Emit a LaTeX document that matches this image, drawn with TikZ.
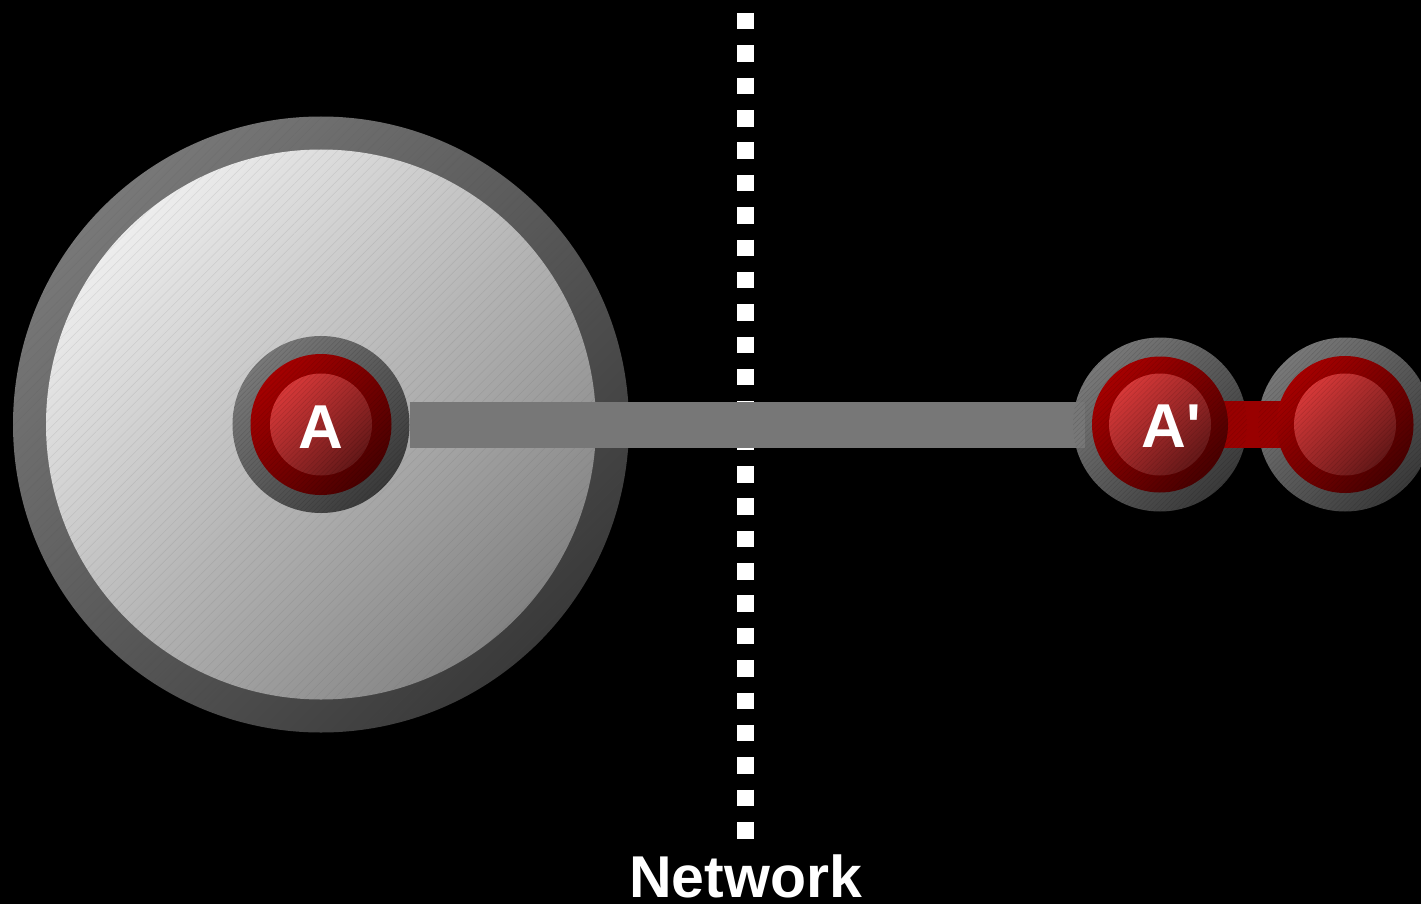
\documentclass[tikz,border=0pt]{standalone}
\usepackage{fontspec}
\setmainfont{Liberation Sans}
\newfontfamily\labfont[Ligatures=TeXOff]{Liberation Sans}
\usetikzlibrary{patterns.meta}
\definecolor{ringhi}{HTML}{787878}
\definecolor{ringlo}{HTML}{3A3A3A}
\definecolor{dischi}{HTML}{EDEDED}
\definecolor{disclo}{HTML}{838383}
\definecolor{redhi}{HTML}{A60000}
\definecolor{redlo}{HTML}{480000}
\definecolor{corehi}{HTML}{D63838}
\definecolor{corelo}{HTML}{651818}
\definecolor{barcol}{HTML}{777777}
\definecolor{redbarcol}{HTML}{990000}
\begin{document}
\begin{tikzpicture}[x=1pt,y=-1pt,
  grayring/.style={circle, inner sep=0pt, shade, top color=ringhi, bottom color=ringlo, shading angle=45},
  discshade/.style={top color=dischi, bottom color=disclo, shading angle=45},
  redring/.style={top color=redhi, bottom color=redlo, shading angle=45},
  redcore/.style={top color=corehi, bottom color=corelo, shading angle=45},
  hatchwide/.style={pattern={Lines[angle=45,distance=7pt,line width=0.5pt]}, pattern color=black!70, opacity=0.12},
  hatchfine/.style={pattern={Lines[angle=45,distance=3.5pt,line width=0.5pt]}, pattern color=black, opacity=0.12},
  bar/.style={line width=46pt, draw=barcol},
  redbar/.style={line width=47pt, draw=redbarcol},
  dotline/.style={draw=white, line width=17pt, dash pattern=on 16.5pt off 15.86pt},
  lab/.style={text=white, inner sep=0pt, anchor=base, font=\labfont\bfseries\fontsize{62}{62}\selectfont},
  nettext/.style={text=white, inner sep=0pt, anchor=base, font=\bfseries\fontsize{59}{59}\selectfont}
]
\fill[black] (0,0) rectangle (1421,904);
\useasboundingbox (0,0) rectangle (1421,904);

% host disc
\node[grayring, minimum size=616pt] (host) at (321,424.5) {};
\shade[discshade] (host.center) circle (275pt);
\fill[hatchwide] (host.center) circle (308pt);

% network boundary
\coordinate (dtop) at (745.5,13);
\coordinate (dbot) at (745.5,838.5);
\draw[dotline] (dtop) -- (dbot);
\node[nettext] (net) at (745.5,897) {Network};

% gray rings of the nodes
\node[grayring, minimum size=177pt] (A) at (321,424.5) {};
\node[grayring, minimum size=174pt] (A2) at (1160,424.5) {};
\node[grayring, minimum size=174pt] (B) at (1345,424.5) {};

% connectors
\draw[bar] (A.east) -- ([xshift=12pt]A2.west);
\draw[redbar] (A2.center) -- (B.center);

% red rings and cores
\foreach \n/\r in {A/70.5, A2/68, B/68.5}{
  \shade[redring] (\n.center) circle (\r pt);
  \shade[redcore] (\n.center) circle (51pt);
}
\foreach \n/\r in {A/88.5, A2/87, B/87}{
  \fill[hatchfine] (\n.center) circle (\r pt);
}

% labels
\node[lab] (tA) at ([yshift=-23.5pt]A.center) {A};
\node[lab] (tA2) at ([xshift=11pt,yshift=-22.5pt]A2.center) {A'};
\end{tikzpicture}
\end{document}
